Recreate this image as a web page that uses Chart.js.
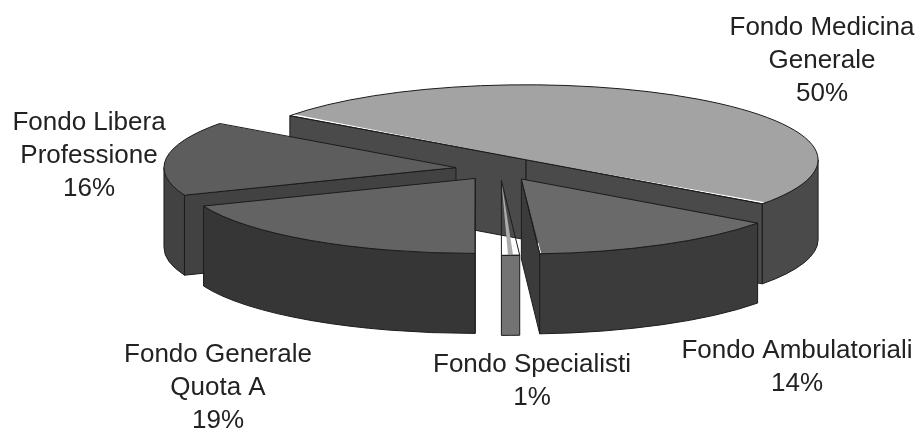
<!DOCTYPE html>
<html>
<head>
<meta charset="utf-8">
<script src="https://cdn.jsdelivr.net/npm/chart.js@4.4.0/dist/chart.umd.min.js"></script>
<style>
  html, body { margin: 0; padding: 0; background: #fff; }
  #wrap { width: 922px; height: 429px; position: relative; }
</style>
</head>
<body>
<div id="wrap"><canvas id="fondi"></canvas></div>
<script>
// ===============================
// DATA
// ===============================
const categories = [
  ["Fondo Medicina", "Generale"],
  ["Fondo Ambulatoriali"],
  ["Fondo Specialisti"],
  ["Fondo Generale", "Quota A"],
  ["Fondo Libera", "Professione"]
];
const shares = [50, 14, 1, 19, 16];

// ===============================
// LOOK
// ===============================
const topColors  = ["#a3a3a3", "#6a6a6a", "#aaaaaa", "#636363", "#5d5d5d"];
const sideColors = ["#4a4a4a", "#3b3b3b", "#737373", "#363636", "#424242"];
const edgeColor = "#1c1c1c";

// flattened pie on the page: centre, half axes, wall height
const PIE = { cx: 500, cy: 169, rx: 292, ry: 75, depth: 80 };

// label anchors: centre x, first baseline
const labelPos = [[822, 35], [797, 358], [532, 372], [218, 362], [89, 130]];
const LINE_H = 33;

const TAU = Math.PI * 2;

// screen-space geometry of each slice, from the arc elements
function sliceGeometry(chart) {
  const arcs = chart.getDatasetMeta(0).data;
  const R = arcs[0].$baseR || arcs[0].outerRadius;
  const kx = PIE.rx / R, ky = PIE.ry / R;
  return arcs.map((el, i) => {
    const o = el.options.offset / 4;
    const mid = (el.startAngle + el.endAngle) / 2;
    return {
      i,
      cx: PIE.cx + Math.cos(mid) * o * kx,
      cy: PIE.cy + Math.sin(mid) * o * ky,
      s: el.startAngle,
      e: el.endAngle
    };
  });
}

function rimPoint(sl, t) {
  return [sl.cx + PIE.rx * Math.cos(t), sl.cy + PIE.ry * Math.sin(t)];
}

// ===============================
// 3D WALLS + TILTED TOPS
// ===============================
const pie3d = {
  id: "pie3d",
  beforeDatasetsDraw(chart) {
    const ctx = chart.ctx;
    const arcs = chart.getDatasetMeta(0).data;
    if (!arcs.length) return;
    const R = arcs[0].outerRadius;
    const slices = sliceGeometry(chart);
    const D = PIE.depth;

    // collect visible side faces
    const faces = [];
    slices.forEach(sl => {
      if (Math.cos(sl.s) < 0) faces.push({ type: "cut", sl, t: sl.s, key: (sl.cy + rimPoint(sl, sl.s)[1]) / 2 });
      if (Math.cos(sl.e) > 0) faces.push({ type: "cut", sl, t: sl.e, key: (sl.cy + rimPoint(sl, sl.e)[1]) / 2 });
      const s = ((sl.s % TAU) + TAU) % TAU;
      const e = s + (sl.e - sl.s);
      [[0, Math.PI], [TAU, TAU + Math.PI]].forEach(([a, b]) => {
        const t1 = Math.max(s, a), t2 = Math.min(e, b);
        if (t2 > t1) faces.push({ type: "rim", sl, t1, t2, key: sl.cy + PIE.ry * Math.sin((t1 + t2) / 2) });
      });
    });
    faces.sort((a, b) => a.key - b.key);

    ctx.save();
    ctx.lineWidth = 1;
    ctx.lineJoin = "round";
    ctx.strokeStyle = edgeColor;
    faces.forEach(f => {
      const sl = f.sl;
      ctx.fillStyle = sideColors[sl.i];
      ctx.beginPath();
      if (f.type === "cut") {
        const [x, y] = rimPoint(sl, f.t);
        ctx.moveTo(sl.cx, sl.cy);
        ctx.lineTo(x, y);
        ctx.lineTo(x, y + D);
        ctx.lineTo(sl.cx, sl.cy + D);
      } else {
        ctx.ellipse(sl.cx, sl.cy, PIE.rx, PIE.ry, 0, f.t1, f.t2);
        ctx.ellipse(sl.cx, sl.cy + D, PIE.rx, PIE.ry, 0, f.t2, f.t1, true);
      }
      ctx.closePath();
      ctx.fill();
      ctx.stroke();
    });
    ctx.restore();

    // squash the library's pie onto the tilted top plane
    ctx.save();
    ctx.translate(PIE.cx, PIE.cy);
    ctx.scale(PIE.rx / R, PIE.ry / R);
    ctx.translate(-arcs[0].x, -arcs[0].y);

    // arcs grow by offset on draw; keep every slice on the same radius
    arcs.forEach(el => {
      const o = el.options.offset / 4;
      el.$baseR = el.outerRadius;
      el.outerRadius = el.$baseR - o * (1 - Math.sin(Math.min(Math.PI, el.circumference)));
    });
  },
  afterDatasetsDraw(chart) {
    const ctx = chart.ctx;
    const arcs = chart.getDatasetMeta(0).data;
    if (!arcs.length) return;
    ctx.restore();

    const slices = sliceGeometry(chart);
    arcs.forEach(el => { el.outerRadius = el.$baseR; });

    // outlines of the tops, drawn unsquashed
    ctx.save();
    ctx.lineWidth = 1;
    ctx.lineJoin = "round";
    ctx.strokeStyle = edgeColor;
    slices.forEach(sl => {
      const [x, y] = rimPoint(sl, sl.s);
      ctx.beginPath();
      ctx.moveTo(sl.cx, sl.cy);
      ctx.lineTo(x, y);
      ctx.ellipse(sl.cx, sl.cy, PIE.rx, PIE.ry, 0, sl.s, sl.e);
      ctx.closePath();
      ctx.stroke();
    });
    ctx.restore();
  }
};

// ===============================
// LABELS
// ===============================
const sliceLabels = {
  id: "sliceLabels",
  afterDraw(chart) {
    const ctx = chart.ctx;
    const values = chart.data.datasets[0].data;
    ctx.save();
    ctx.font = "26px 'Liberation Sans', Arial, sans-serif";
    ctx.fillStyle = "#222";
    ctx.textAlign = "center";
    ctx.textBaseline = "alphabetic";
    chart.data.labels.forEach((lines, i) => {
      const [x, y] = labelPos[i];
      lines.concat(values[i] + "%").forEach((t, k) => ctx.fillText(t, x, y + k * LINE_H));
    });
    ctx.restore();
  }
};

// ===============================
// CHART
// ===============================
new Chart(document.getElementById("fondi"), {
  type: "pie",
  data: {
    labels: categories,
    datasets: [{
      data: shares,
      backgroundColor: topColors,
      borderWidth: 0,
      offset: 100,
      clip: false
    }]
  },
  options: {
    responsive: true,
    maintainAspectRatio: false,
    animation: false,
    events: [],
    rotation: -54,
    layout: { padding: 0 },
    plugins: {
      legend: { display: false },
      tooltip: { enabled: false }
    }
  },
  plugins: [pie3d, sliceLabels]
});
</script>
</body>
</html>
